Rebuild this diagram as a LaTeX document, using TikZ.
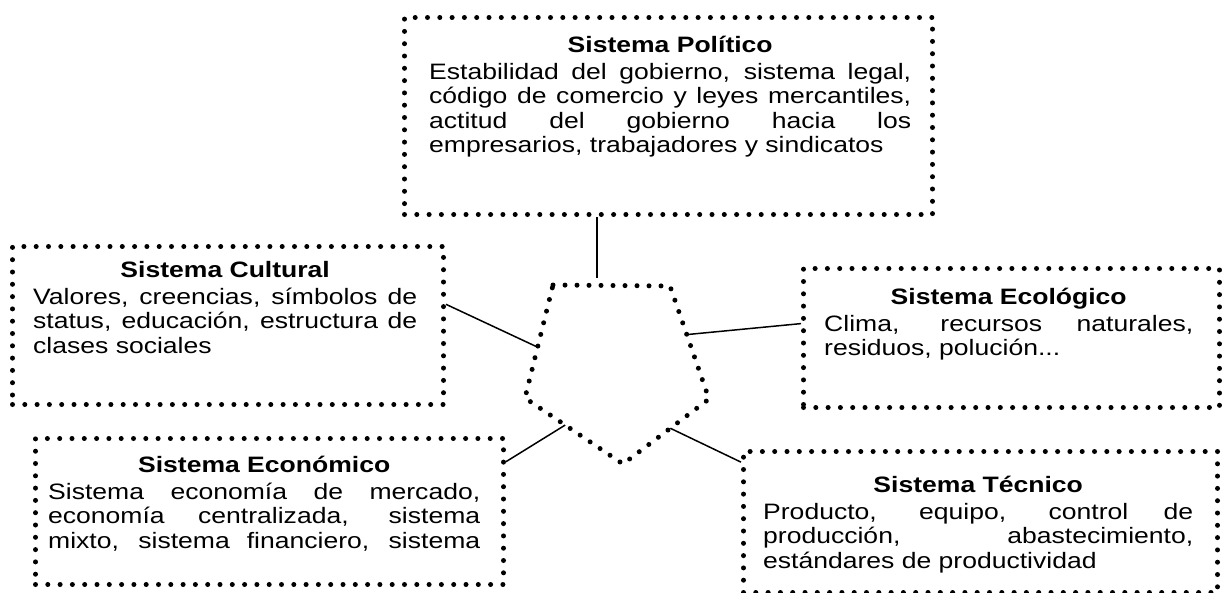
\documentclass[tikz,border=0pt]{standalone}
\usepackage{fontspec}
\setmainfont{Liberation Sans}[FakeStretch=1.19]
\usetikzlibrary{calc}
\newcommand{\jline}[1]{\makebox[\linewidth][s]{\spaceskip=0pt\xspaceskip=0pt #1}}
\newcommand{\lline}[1]{\makebox[\linewidth][l]{\spaceskip=0pt\xspaceskip=0pt #1}}
\newcommand{\tline}[1]{\makebox[\linewidth][c]{\spaceskip=0pt\xspaceskip=0pt\strut\bfseries #1}}
\begin{document}
\begin{tikzpicture}[x=1pt,y=-1pt,
  dotbox/.style={draw, line width=5pt, line cap=round, line join=round, dash pattern=on 0pt off 12.3pt, rectangle, inner sep=0pt, anchor=north west},
  pentline/.style={draw, line width=5pt, line cap=round, line join=round, dash pattern=on 0pt off 12pt},
  txt/.style={anchor=north west, inner sep=0pt, align=left, font=\fontsize{22.3}{24.5}\selectfont},
  link/.style={line width=1.5pt}]
\useasboundingbox (0,0) rectangle (1222,592);

% boxes
\node[dotbox, minimum width=528pt, minimum height=197pt] (pol) at (402,15) {};
\node[dotbox, minimum width=431pt, minimum height=158pt] (cul) at (10,244) {};
\node[dotbox, minimum width=416pt, minimum height=139pt] (eco) at (801,266) {};
\node[dotbox, minimum width=468pt, minimum height=146pt] (econ) at (33,436) {};
\node[dotbox, minimum width=474pt, minimum height=141pt] (tec) at (741,449) {};

% texts
\node[txt, text width=482pt] (poltxt) at (429,34.85) {%
\tline{Sistema Político}\\[2.5pt]
\jline{Estabilidad del gobierno, sistema legal,}\\
\jline{código de comercio y leyes mercantiles,}\\
\jline{actitud del gobierno hacia los}\\
\lline{empresarios, trabajadores y sindicatos}};

\node[txt, text width=384pt] (cultxt) at (33,259.85) {%
\tline{Sistema Cultural}\\[2.5pt]
\jline{Valores, creencias, símbolos de}\\
\jline{status, educación, estructura de}\\
\lline{clases sociales}};

\node[txt, text width=369pt] (ecotxt) at (824,286.85) {%
\tline{Sistema Ecológico}\\[2.5pt]
\jline{Clima, recursos naturales,}\\
\lline{residuos, polución...}};

\node[txt, text width=432pt] (econtxt) at (48,454.85) {%
\tline{Sistema Económico}\\[2.5pt]
\jline{Sistema economía de mercado,}\\
\jline{economía centralizada, sistema}\\
\jline{mixto, sistema financiero, sistema}};

\node[txt, text width=430pt] (tectxt) at (763,474.85) {%
\tline{Sistema Técnico}\\[2.5pt]
\jline{Producto, equipo, control de}\\
\jline{producción, abastecimiento,}\\
\lline{estándares de productividad}};

% pentagon
\coordinate (p1) at (553,285);
\coordinate (p2) at (670,286);
\coordinate (p3) at (709,399);
\coordinate (p4) at (623,464);
\coordinate (p5) at (525,398);
\path[pentline] (p1) -- (p2) -- (p3) -- (p4) -- (p5) -- cycle;

% connectors
\coordinate (ptop) at (597,278);
\draw[link] (ptop |- pol.south) -- (ptop);
\draw[link] ($(cul.north east)!0.37!(cul.south east)$) -- ($(p5)!0.45!(p1)$);
\draw[link] ($(eco.north west)!0.40!(eco.south west)$) -- ($(p2)!0.43!(p3)$);
\draw[link] ($(econ.north east)!0.17!(econ.south east)$) -- ($(p5)!0.41!(p4)$);
\draw[link] ($(tec.north west)!0.09!(tec.south west)$) -- ($(p3)!0.45!(p4)$);
\end{tikzpicture}
\end{document}
